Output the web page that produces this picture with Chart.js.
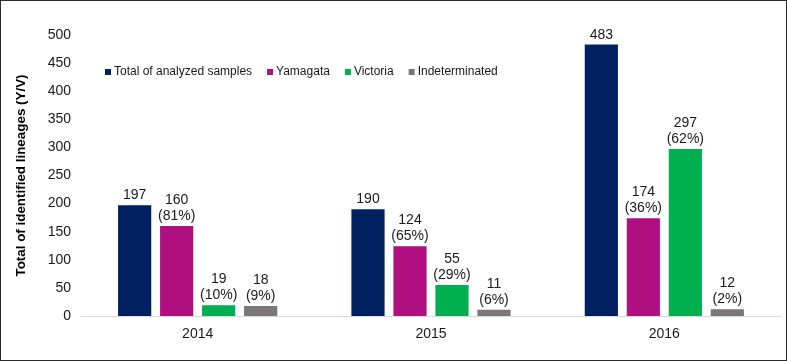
<!DOCTYPE html>
<html lang="en">
<head>
<meta charset="UTF-8">
<title>Lineages</title>
<script src="https://cdn.jsdelivr.net/npm/chart.js"></script>
<style>
  html, body { margin: 0; padding: 0; background: #fff; }
  .moldura { position: relative; width: 787px; height: 361px; box-sizing: border-box; border: 1px solid #2b2b2b; }
  canvas { position: absolute; left: 0; top: 0; }
</style>
</head>
<body>
<div class="moldura">
  <canvas id="grafico" width="785" height="359"></canvas>
</div>
<script>
  // dados
  const anos = ['2014', '2015', '2016'];
  const total = [197, 190, 483];
  const yamagata = [160, 124, 174];
  const victoria = [19, 55, 297];
  const indeterminado = [18, 11, 12];
  const pctYamagata = ['81%', '65%', '36%'];
  const pctVictoria = ['10%', '29%', '62%'];
  const pctIndet = ['9%', '6%', '2%'];
  const yTicks = [0, 50, 100, 150, 200, 250, 300, 350, 400, 450, 500];

  const fonte = "'Liberation Sans', Arial, sans-serif";

  const dados = {
    labels: anos,
    datasets: [
      { label: 'Total of analyzed samples', data: total, backgroundColor: '#002060', pct: null },
      { label: 'Yamagata', data: yamagata, backgroundColor: '#b0107f', pct: pctYamagata },
      { label: 'Victoria', data: victoria, backgroundColor: '#00b050', pct: pctVictoria },
      { label: 'Indeterminated', data: indeterminado, backgroundColor: '#7b7678', pct: pctIndet }
    ]
  };

  // rotulos em cima das barras
  const rotulos = {
    id: 'rotulos',
    afterDatasetsDraw(chart) {
      const ctx = chart.ctx;
      ctx.save();
      ctx.font = '14px ' + fonte;
      ctx.fillStyle = '#1a1a1a';
      ctx.textAlign = 'center';
      ctx.textBaseline = 'alphabetic';
      chart.data.datasets.forEach((ds, i) => {
        const meta = chart.getDatasetMeta(i);
        meta.data.forEach((bar, j) => {
          const linhas = [String(ds.data[j])];
          if (ds.pct) linhas.push('(' + ds.pct[j] + ')');
          let y = bar.y - 6;
          for (let k = linhas.length - 1; k >= 0; k--) {
            ctx.fillText(linhas[k], bar.x, y);
            y -= 16;
          }
        });
      });
      ctx.restore();
    }
  };

  // legenda dentro da area do grafico
  const legenda = {
    id: 'legenda',
    afterDraw(chart) {
      const ctx = chart.ctx;
      ctx.save();
      ctx.font = '12px ' + fonte;
      ctx.textBaseline = 'middle';
      let x = 104;
      const y = 71;
      chart.data.datasets.forEach(ds => {
        ctx.fillStyle = ds.backgroundColor;
        ctx.fillRect(x, y - 3, 6, 6);
        ctx.fillStyle = '#1a1a1a';
        ctx.fillText(ds.label, x + 9, y);
        x += 9 + ctx.measureText(ds.label).width + 15;
      });
      ctx.restore();
    }
  };

  new Chart(document.getElementById('grafico'), {
    type: 'bar',
    data: dados,
    options: {
      responsive: false,
      animation: false,
      categoryPercentage: 0.72,
      barPercentage: 0.79,
      layout: { padding: { top: 34, right: 5, left: 0, bottom: 0 } },
      plugins: { legend: { display: false }, tooltip: { enabled: false } },
      scales: {
        x: {
          grid: { display: false, drawTicks: false },
          border: { display: true, color: '#d9d9d9', width: 1 },
          ticks: { font: { size: 14, family: fonte }, color: '#1a1a1a', padding: 10 },
          afterFit(scale) { scale.height = 44; }
        },
        y: {
          min: 0,
          max: 500,
          afterBuildTicks(scale) { scale.ticks = yTicks.map(v => ({ value: v })); },
          grid: { display: false, drawTicks: false },
          border: { display: false },
          ticks: { font: { size: 14, family: fonte }, color: '#1a1a1a', padding: 10 },
          title: {
            display: true,
            text: 'Total of identified lineages (Y/V)',
            font: { size: 13.4, weight: 'bold', family: fonte },
            color: '#000',
            padding: { top: 12, bottom: 0 }
          },
          afterFit(scale) { scale.width = 80; }
        }
      }
    },
    plugins: [rotulos, legenda]
  });
</script>
</body>
</html>
